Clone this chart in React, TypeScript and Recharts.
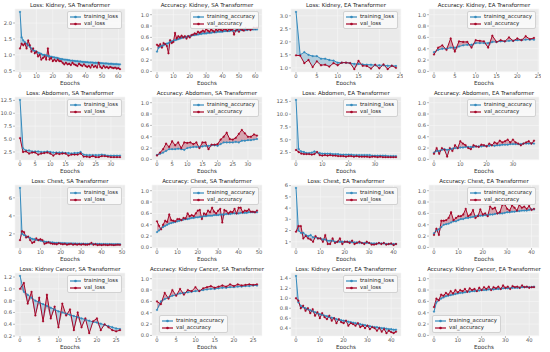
import { ComposedChart, Line, Area, XAxis, YAxis, CartesianGrid } from 'recharts';

const BLUE = '#348ABD';
const RED = '#A60628';
const FONT = '"DejaVu Sans", Verdana, sans-serif';

// Kidney, SA Transformer
const kidneySaTrainLoss = [2.35, 1.55, 1.45, 1.4, 1.35, 1.3, 1.25, 1.2, 1.15, 1.12, 1.1, 1.07, 1.05, 1.03, 1.0, 1.0, 0.98, 0.97, 0.95, 0.94, 0.93, 0.92, 0.91, 0.9, 0.88, 0.87, 0.86, 0.85, 0.85, 0.84, 0.83, 0.82, 0.82, 0.81, 0.8, 0.8, 0.79, 0.79, 0.78, 0.78, 0.77, 0.77, 0.76, 0.76, 0.76, 0.75, 0.75, 0.75, 0.74, 0.74, 0.74, 0.73, 0.73, 0.73, 0.72, 0.72, 0.72, 0.71, 0.71, 0.71, 0.7, 0.7];
const kidneySaValLoss = [1.2, 1.35, 1.3, 1.35, 1.2, 1.45, 1.3, 1.1, 1.2, 1.05, 1.1, 0.95, 1.0, 0.85, 0.9, 0.95, 0.85, 1.2, 0.85, 0.9, 0.8, 0.85, 0.8, 0.85, 0.8, 0.8, 0.75, 0.7, 0.75, 0.7, 0.72, 0.68, 0.75, 0.7, 0.68, 0.65, 0.72, 0.68, 0.65, 0.7, 0.65, 0.62, 0.65, 0.6, 0.68, 0.62, 0.65, 0.6, 0.75, 0.62, 0.58, 0.65, 0.6, 0.62, 0.58, 0.62, 0.6, 0.58, 0.6, 0.57, 0.58, 0.55];
const kidneySaTrainAcc = [0.35, 0.42, 0.44, 0.45, 0.46, 0.48, 0.49, 0.5, 0.52, 0.53, 0.54, 0.55, 0.56, 0.57, 0.58, 0.59, 0.6, 0.6, 0.61, 0.62, 0.62, 0.63, 0.64, 0.64, 0.65, 0.65, 0.66, 0.66, 0.67, 0.67, 0.67, 0.68, 0.68, 0.68, 0.69, 0.69, 0.69, 0.7, 0.7, 0.7, 0.7, 0.71, 0.71, 0.71, 0.71, 0.72, 0.72, 0.72, 0.72, 0.72, 0.73, 0.73, 0.73, 0.73, 0.73, 0.73, 0.74, 0.74, 0.74, 0.74, 0.74, 0.74];
const kidneySaValAcc = [0.47, 0.45, 0.48, 0.42, 0.5, 0.48, 0.45, 0.32, 0.55, 0.5, 0.52, 0.68, 0.58, 0.62, 0.6, 0.63, 0.6, 0.62, 0.58, 0.62, 0.6, 0.64, 0.65, 0.67, 0.66, 0.7, 0.68, 0.7, 0.72, 0.7, 0.75, 0.72, 0.7, 0.74, 0.72, 0.7, 0.74, 0.72, 0.75, 0.73, 0.72, 0.75, 0.74, 0.72, 0.75, 0.73, 0.74, 0.65, 0.72, 0.74, 0.7, 0.75, 0.73, 0.72, 0.76, 0.74, 0.75, 0.73, 0.75, 0.77, 0.76, 0.77];

// Kidney, EA Transformer
const kidneyEaTrainLoss = [3.15, 1.5, 1.6, 1.5, 1.45, 1.45, 1.35, 1.35, 1.3, 1.28, 1.2, 1.2, 1.2, 1.18, 1.15, 1.15, 1.13, 1.12, 1.12, 1.1, 1.1, 1.1, 1.08, 1.08, 1.07];
const kidneyEaValLoss = [1.48, 1.47, 1.18, 1.3, 1.03, 1.25, 1.1, 1.12, 1.05, 1.18, 1.1, 1.2, 1.2, 1.18, 0.95, 1.27, 1.08, 1.07, 0.97, 1.12, 0.98, 1.13, 0.95, 1.08, 1.0];
const kidneyEaTrainAcc = [0.34, 0.38, 0.4, 0.4, 0.42, 0.42, 0.44, 0.46, 0.47, 0.47, 0.5, 0.5, 0.5, 0.5, 0.52, 0.52, 0.53, 0.53, 0.54, 0.54, 0.55, 0.55, 0.56, 0.56, 0.56];
const kidneyEaValAcc = [0.3, 0.42, 0.46, 0.38, 0.58, 0.35, 0.53, 0.52, 0.52, 0.42, 0.55, 0.54, 0.53, 0.42, 0.63, 0.52, 0.55, 0.53, 0.6, 0.54, 0.58, 0.55, 0.62, 0.57, 0.59];

// Abdomen, SA Transformer
const abdomenSaTrainLoss = [12.6, 3.2, 2.8, 2.8, 2.6, 2.6, 2.6, 2.5, 2.5, 2.6, 2.5, 2.4, 2.4, 2.4, 2.4, 2.3, 2.3, 2.2, 2.3, 2.3, 2.5, 2.0, 1.9, 1.9, 1.9, 1.9, 1.9, 2.0, 1.9, 1.8, 1.8, 1.8, 1.8, 1.8];
const abdomenSaValLoss = [5.2, 2.5, 2.6, 2.2, 2.4, 2.4, 2.0, 2.2, 2.3, 2.4, 2.2, 1.8, 2.2, 2.1, 2.2, 2.2, 1.8, 2.0, 2.0, 2.0, 2.2, 1.6, 1.6, 1.5, 1.7, 1.5, 1.5, 1.7, 1.7, 1.6, 1.5, 1.5, 1.5, 1.5];
const abdomenSaTrainAcc = [0.08, 0.1, 0.12, 0.15, 0.18, 0.18, 0.18, 0.19, 0.18, 0.17, 0.2, 0.21, 0.22, 0.22, 0.22, 0.23, 0.24, 0.24, 0.25, 0.25, 0.24, 0.27, 0.3, 0.3, 0.3, 0.3, 0.31, 0.3, 0.33, 0.33, 0.34, 0.34, 0.35, 0.36];
const abdomenSaValAcc = [0.07, 0.12, 0.18, 0.28, 0.22, 0.32, 0.25, 0.3, 0.2, 0.3, 0.29, 0.3, 0.27, 0.3, 0.2, 0.3, 0.3, 0.18, 0.26, 0.26, 0.27, 0.35, 0.4, 0.47, 0.36, 0.35, 0.38, 0.45, 0.52, 0.46, 0.4, 0.4, 0.44, 0.42];

// Abdomen, EA Transformer
const abdomenEaTrainLoss = [12.8, 3.2, 2.7, 2.6, 2.4, 2.4, 2.5, 2.7, 2.5, 2.4, 2.3, 2.3, 2.3, 2.3, 2.2, 2.2, 2.2, 2.1, 2.1, 2.1, 2.1, 2.1, 2.0, 2.0, 2.0, 2.0, 2.0, 2.0, 2.0, 1.9, 1.9, 1.9, 1.9, 1.9, 1.9, 1.8, 1.8, 1.8, 1.8];
const abdomenEaValLoss = [3.0, 2.6, 2.3, 2.2, 2.2, 2.2, 2.1, 2.2, 2.6, 2.0, 1.9, 2.0, 1.9, 2.0, 1.9, 1.9, 1.8, 1.8, 1.8, 1.7, 1.8, 1.8, 1.7, 1.8, 1.7, 1.7, 1.7, 1.7, 1.6, 1.7, 1.7, 1.6, 1.7, 1.6, 1.6, 1.6, 1.6, 1.6, 1.6];
const abdomenEaTrainAcc = [0.12, 0.15, 0.15, 0.17, 0.18, 0.17, 0.18, 0.19, 0.2, 0.2, 0.21, 0.21, 0.22, 0.22, 0.22, 0.22, 0.23, 0.23, 0.23, 0.24, 0.24, 0.24, 0.25, 0.24, 0.25, 0.25, 0.26, 0.26, 0.26, 0.27, 0.27, 0.27, 0.27, 0.27, 0.28, 0.28, 0.28, 0.28, 0.28];
const abdomenEaValAcc = [0.1, 0.2, 0.1, 0.2, 0.17, 0.05, 0.2, 0.15, 0.25, 0.2, 0.32, 0.28, 0.25, 0.2, 0.18, 0.25, 0.23, 0.22, 0.26, 0.25, 0.23, 0.28, 0.25, 0.3, 0.28, 0.33, 0.3, 0.32, 0.35, 0.3, 0.35, 0.3, 0.28, 0.25, 0.28, 0.3, 0.32, 0.28, 0.33];

// Chest, SA Transformer
const chestSaTrainLoss = [7.1, 2.0, 1.85, 1.75, 1.65, 1.55, 1.45, 1.4, 1.35, 1.3, 1.25, 1.2, 1.15, 1.1, 1.1, 1.05, 1.05, 1.0, 1.0, 1.0, 0.98, 0.97, 0.96, 0.95, 0.95, 0.94, 0.93, 0.93, 0.92, 0.92, 0.91, 0.91, 0.9, 0.9, 0.9, 0.89, 0.89, 0.88, 0.88, 0.88, 0.87, 0.87, 0.87, 0.86, 0.86, 0.86, 0.85, 0.85, 0.85, 0.85];
const chestSaValLoss = [1.3, 2.3, 2.2, 1.6, 1.7, 1.3, 1.0, 1.1, 1.5, 1.3, 1.4, 1.3, 0.9, 1.0, 1.05, 0.95, 0.9, 0.9, 0.85, 0.95, 0.9, 0.85, 0.9, 0.8, 0.85, 0.9, 0.8, 0.85, 0.8, 0.85, 0.8, 0.85, 0.8, 0.8, 0.85, 1.0, 0.8, 0.85, 0.75, 0.8, 0.75, 0.8, 0.78, 0.75, 0.8, 0.78, 0.75, 0.78, 0.8, 0.78];
const chestSaTrainAcc = [0.27, 0.3, 0.33, 0.36, 0.38, 0.4, 0.42, 0.43, 0.44, 0.45, 0.46, 0.47, 0.48, 0.49, 0.5, 0.5, 0.51, 0.52, 0.52, 0.53, 0.53, 0.54, 0.54, 0.55, 0.55, 0.56, 0.56, 0.56, 0.57, 0.57, 0.57, 0.58, 0.58, 0.58, 0.59, 0.59, 0.59, 0.6, 0.6, 0.6, 0.6, 0.61, 0.61, 0.61, 0.61, 0.62, 0.62, 0.62, 0.62, 0.62];
const chestSaValAcc = [0.46, 0.38, 0.32, 0.4, 0.47, 0.45, 0.58, 0.48, 0.47, 0.46, 0.5, 0.5, 0.48, 0.52, 0.51, 0.6, 0.55, 0.57, 0.55, 0.6, 0.65, 0.66, 0.5, 0.6, 0.58, 0.65, 0.62, 0.7, 0.63, 0.6, 0.65, 0.68, 0.44, 0.66, 0.64, 0.6, 0.63, 0.62, 0.68, 0.6, 0.7, 0.7, 0.62, 0.65, 0.64, 0.67, 0.63, 0.63, 0.62, 0.65];

// Chest, EA Transformer
const chestEaTrainLoss = [5.8, 2.0, 1.8, 1.8, 1.6, 1.5, 1.6, 1.4, 1.4, 1.3, 1.3, 1.2, 1.2, 1.1, 1.1, 1.1, 1.0, 1.0, 1.0, 1.0, 1.0, 1.0, 1.0, 0.95, 0.95, 0.95, 0.9, 0.9, 0.9, 0.9, 0.9, 0.85, 0.85, 0.85, 0.85, 0.85, 0.85, 0.8, 0.8, 0.8, 0.8, 0.8];
const chestEaValLoss = [1.9, 2.4, 2.4, 1.3, 1.5, 1.3, 1.2, 1.0, 1.5, 1.3, 1.3, 1.0, 1.6, 0.8, 0.8, 1.3, 0.9, 1.0, 1.3, 0.8, 1.0, 1.0, 0.9, 1.1, 0.8, 0.9, 1.0, 0.9, 0.8, 1.0, 0.9, 0.75, 0.75, 0.8, 0.9, 0.8, 0.9, 0.75, 0.8, 0.85, 0.7, 0.8];
const chestEaTrainAcc = [0.25, 0.3, 0.32, 0.36, 0.4, 0.41, 0.42, 0.44, 0.46, 0.46, 0.48, 0.5, 0.5, 0.52, 0.52, 0.53, 0.54, 0.55, 0.56, 0.56, 0.56, 0.57, 0.57, 0.58, 0.58, 0.59, 0.6, 0.6, 0.6, 0.61, 0.62, 0.62, 0.63, 0.63, 0.64, 0.64, 0.65, 0.65, 0.65, 0.66, 0.67, 0.67];
const chestEaValAcc = [0.22, 0.33, 0.22, 0.47, 0.47, 0.48, 0.52, 0.62, 0.48, 0.52, 0.55, 0.55, 0.58, 0.68, 0.55, 0.58, 0.66, 0.52, 0.55, 0.67, 0.58, 0.6, 0.55, 0.72, 0.68, 0.7, 0.6, 0.62, 0.75, 0.76, 0.68, 0.65, 0.74, 0.7, 0.65, 0.75, 0.7, 0.72, 0.68, 0.73, 0.66, 0.68];

// Kidney Cancer, SA Transformer
const cancerSaTrainLoss = [1.22, 0.95, 0.9, 0.85, 0.8, 0.77, 0.74, 0.71, 0.68, 0.65, 0.62, 0.6, 0.58, 0.56, 0.54, 0.52, 0.5, 0.48, 0.46, 0.44, 0.43, 0.41, 0.39, 0.37, 0.35, 0.33, 0.32];
const cancerSaValLoss = [1.0, 1.1, 0.75, 0.95, 0.55, 0.85, 0.45, 0.9, 0.5, 0.7, 0.35, 0.75, 0.55, 0.65, 0.3, 0.6, 0.35, 0.5, 0.25, 0.45, 0.5, 0.3, 0.4, 0.35, 0.3, 0.28, 0.3];
const cancerSaTrainAcc = [0.45, 0.6, 0.64, 0.67, 0.7, 0.72, 0.74, 0.75, 0.76, 0.77, 0.78, 0.79, 0.8, 0.81, 0.82, 0.82, 0.83, 0.84, 0.84, 0.85, 0.85, 0.86, 0.86, 0.87, 0.87, 0.88, 0.88];
const cancerSaValAcc = [0.6, 0.55, 0.75, 0.65, 0.8, 0.7, 0.82, 0.72, 0.8, 0.78, 0.85, 0.78, 0.83, 0.85, 0.87, 0.84, 0.86, 0.88, 0.86, 0.9, 0.87, 0.9, 0.88, 0.89, 0.9, 0.89, 0.9];

// Kidney Cancer, EA Transformer
const cancerEaTrainLoss = [1.45, 0.92, 0.85, 0.82, 0.8, 0.78, 0.76, 0.74, 0.72, 0.7, 0.68, 0.67, 0.65, 0.64, 0.62, 0.61, 0.6, 0.58, 0.57, 0.56, 0.55, 0.54, 0.53, 0.52, 0.51, 0.5, 0.49, 0.48, 0.47, 0.46, 0.45, 0.44, 0.43, 0.42, 0.42, 0.41, 0.4, 0.4, 0.39, 0.38, 0.38, 0.37, 0.37];
const cancerEaValLoss = [1.0, 0.95, 0.8, 0.85, 0.75, 0.8, 0.7, 0.78, 0.65, 0.72, 0.6, 0.7, 0.62, 0.58, 0.65, 0.55, 0.6, 0.5, 0.58, 0.52, 0.5, 0.55, 0.45, 0.5, 0.48, 0.45, 0.5, 0.42, 0.45, 0.4, 0.45, 0.38, 0.42, 0.4, 0.35, 0.4, 0.33, 0.38, 0.3, 0.35, 0.32, 0.3, 0.33];
const cancerEaTrainAcc = [0.42, 0.58, 0.62, 0.65, 0.67, 0.69, 0.7, 0.71, 0.72, 0.73, 0.74, 0.75, 0.75, 0.76, 0.77, 0.77, 0.78, 0.78, 0.79, 0.79, 0.8, 0.8, 0.8, 0.81, 0.81, 0.81, 0.82, 0.82, 0.82, 0.83, 0.83, 0.83, 0.83, 0.84, 0.84, 0.84, 0.84, 0.85, 0.85, 0.85, 0.85, 0.85, 0.86];
const cancerEaValAcc = [0.5, 0.65, 0.62, 0.72, 0.7, 0.75, 0.72, 0.78, 0.74, 0.8, 0.76, 0.8, 0.78, 0.82, 0.77, 0.83, 0.8, 0.82, 0.78, 0.84, 0.8, 0.85, 0.82, 0.86, 0.8, 0.85, 0.83, 0.86, 0.82, 0.88, 0.84, 0.86, 0.82, 0.87, 0.85, 0.86, 0.84, 0.88, 0.85, 0.86, 0.84, 0.85, 0.85];

// tick labels
const accTicks = [0, 0.2, 0.4, 0.6, 0.8, 1.0];
const kidneySaLossTicks = [0.5, 1.0, 1.5, 2.0];
const kidneyEaLossTicks = [1.0, 1.5, 2.0, 2.5, 3.0];
const abdomenLossTicks = [2.5, 5.0, 7.5, 10.0, 12.5];
const chestSaLossTicks = [2, 4, 6];
const chestEaLossTicks = [1, 2, 3, 4, 5, 6];
const cancerSaLossTicks = [0.2, 0.4, 0.6, 0.8, 1.0, 1.2];
const cancerEaLossTicks = [0.4, 0.6, 0.8, 1.0, 1.2, 1.4];
const epochTicks60 = [0, 10, 20, 30, 40, 50, 60];
const epochTicks25 = [0, 5, 10, 15, 20, 25];
const epochTicks30 = [0, 5, 10, 15, 20, 25, 30];
const epochTicks30by10 = [0, 10, 20, 30];
const epochTicks40 = [0, 10, 20, 30, 40];
const epochTicks50 = [0, 10, 20, 30, 40, 50];

const COL_LEFT = [15, 152, 291, 429];
const ROW_TOP = [9, 97, 185, 273];
const PLOT_W = 110;
const PLOT_H = 63;
const Y_W = 30;
const X_H = 13;

type LegendPos = 'ur' | 'lc' | 'll';

interface PanelSpec {
  title: string;
  kind: 'loss' | 'accuracy';
  train: number[];
  val: number[];
  yTicks: number[];
  xTicks: number[];
  digits: number;
  legend?: LegendPos;
}

const panels: PanelSpec[][] = [
  [
    { title: 'Loss: Kidney, SA Transformer', kind: 'loss', train: kidneySaTrainLoss, val: kidneySaValLoss, yTicks: kidneySaLossTicks, xTicks: epochTicks60, digits: 1 },
    { title: 'Accuracy: Kidney, SA Transformer', kind: 'accuracy', train: kidneySaTrainAcc, val: kidneySaValAcc, yTicks: accTicks, xTicks: epochTicks60, digits: 1 },
    { title: 'Loss: Kidney, EA Transformer', kind: 'loss', train: kidneyEaTrainLoss, val: kidneyEaValLoss, yTicks: kidneyEaLossTicks, xTicks: epochTicks25, digits: 1 },
    { title: 'Accuracy: Kidney, EA Transformer', kind: 'accuracy', train: kidneyEaTrainAcc, val: kidneyEaValAcc, yTicks: accTicks, xTicks: epochTicks25, digits: 1 },
  ],
  [
    { title: 'Loss: Abdomen, SA Transformer', kind: 'loss', train: abdomenSaTrainLoss, val: abdomenSaValLoss, yTicks: abdomenLossTicks, xTicks: epochTicks30, digits: 1 },
    { title: 'Accuracy: Abdomen, SA Transformer', kind: 'accuracy', train: abdomenSaTrainAcc, val: abdomenSaValAcc, yTicks: accTicks, xTicks: epochTicks30, digits: 1 },
    { title: 'Loss: Abdomen, EA Transformer', kind: 'loss', train: abdomenEaTrainLoss, val: abdomenEaValLoss, yTicks: abdomenLossTicks, xTicks: epochTicks30by10, digits: 1 },
    { title: 'Accuracy: Abdomen, EA Transformer', kind: 'accuracy', train: abdomenEaTrainAcc, val: abdomenEaValAcc, yTicks: accTicks, xTicks: epochTicks30by10, digits: 1 },
  ],
  [
    { title: 'Loss: Chest, SA Transformer', kind: 'loss', train: chestSaTrainLoss, val: chestSaValLoss, yTicks: chestSaLossTicks, xTicks: epochTicks50, digits: 0 },
    { title: 'Accuracy: Chest, SA Transformer', kind: 'accuracy', train: chestSaTrainAcc, val: chestSaValAcc, yTicks: accTicks, xTicks: epochTicks50, digits: 1 },
    { title: 'Loss: Chest, EA Transformer', kind: 'loss', train: chestEaTrainLoss, val: chestEaValLoss, yTicks: chestEaLossTicks, xTicks: epochTicks40, digits: 0 },
    { title: 'Accuracy: Chest, EA Transformer', kind: 'accuracy', train: chestEaTrainAcc, val: chestEaValAcc, yTicks: accTicks, xTicks: epochTicks40, digits: 1 },
  ],
  [
    { title: 'Loss: Kidney Cancer, SA Transformer', kind: 'loss', train: cancerSaTrainLoss, val: cancerSaValLoss, yTicks: cancerSaLossTicks, xTicks: epochTicks25, digits: 1 },
    { title: 'Accuracy: Kidney Cancer, SA Transformer', kind: 'accuracy', train: cancerSaTrainAcc, val: cancerSaValAcc, yTicks: accTicks, xTicks: epochTicks25, digits: 1, legend: 'lc' },
    { title: 'Loss: Kidney Cancer, EA Transformer', kind: 'loss', train: cancerEaTrainLoss, val: cancerEaValLoss, yTicks: cancerEaLossTicks, xTicks: epochTicks40, digits: 1 },
    { title: 'Accuracy: Kidney Cancer, EA Transformer', kind: 'accuracy', train: cancerEaTrainAcc, val: cancerEaValAcc, yTicks: accTicks, xTicks: epochTicks40, digits: 1, legend: 'll' },
  ],
];

function LegendBox({ kind, pos, left, top }: { kind: string; pos: LegendPos; left: number; top: number }) {
  const place: React.CSSProperties =
    pos === 'ur'
      ? { right: 550 - (left + PLOT_W) + 3, top: top + 2 }
      : pos === 'lc'
      ? { left: left + 7, bottom: 352 - (top + PLOT_H) + 3 }
      : { left: left + 3, bottom: 352 - (top + PLOT_H) + 3 };
  const rows = [
    { name: `training_${kind}`, color: BLUE },
    { name: `val_${kind}`, color: RED },
  ];
  return (
    <div
      style={{
        position: 'absolute',
        ...place,
        background: 'rgba(250,250,250,0.85)',
        border: '0.8px solid #d2d2d2',
        borderRadius: 2,
        padding: '1px 3px 1px 2px',
        fontSize: 5.4,
        lineHeight: '7px',
        color: '#222',
      }}
    >
      {rows.map((r) => (
        <div key={r.name} style={{ display: 'flex', alignItems: 'center', gap: 3 }}>
          <svg width={11} height={4}>
            <line x1={0} y1={2} x2={11} y2={2} stroke={r.color} strokeWidth={1.2} />
            <circle cx={5.5} cy={2} r={1.3} fill={r.color} />
          </svg>
          <span>{r.name}</span>
        </div>
      ))}
    </div>
  );
}

function Panel({ p, row, col }: { p: PanelSpec; row: number; col: number }) {
  const left = COL_LEFT[col];
  const top = ROW_TOP[row];
  const data = p.train.map((t, i) => ({ epoch: i, t, v: p.val[i], lo: Math.min(t, p.val[i]) }));
  const last = p.train.length - 1;
  const xDomain = [-0.05 * last, 1.05 * last];
  let yDomain: number[];
  if (p.kind === 'accuracy') {
    yDomain = [-0.01, 1.1];
  } else {
    const all = [...p.train, ...p.val];
    const mn = Math.min(...all);
    const mx = Math.max(...all);
    const r = mx - mn;
    yDomain = [mn - 0.05 * r, mx + 0.05 * r];
  }
  const dot = (c: string) => ({ r: 0.9, fill: c, stroke: c, strokeWidth: 0.3 });

  return (
    <>
      <div
        style={{
          position: 'absolute',
          left: left - 10,
          top: top - 7.5,
          width: PLOT_W + 20,
          textAlign: 'center',
          fontSize: 5.5,
          lineHeight: '6px',
          color: '#222',
          whiteSpace: 'nowrap',
        }}
      >
        {p.title}
      </div>
      <div style={{ position: 'absolute', left: left - Y_W, top: top - 2 }}>
        <ComposedChart
          width={PLOT_W + Y_W + 2}
          height={PLOT_H + 2 + X_H}
          data={data}
          margin={{ top: 2, right: 2, left: 0, bottom: 0 }}
        >
          <CartesianGrid stroke="#f7f7f7" strokeWidth={0.6} fill="#eaeaea" />
          <XAxis
            type="number"
            dataKey="epoch"
            domain={xDomain}
            ticks={p.xTicks}
            interval={0}
            allowDataOverflow
            height={X_H}
            axisLine={false}
            tickLine={{ stroke: '#777', strokeWidth: 0.5 }}
            tickSize={2}
            tickMargin={0}
            tick={{ fontSize: 5.2, fill: '#555' }}
            label={{ value: 'Epochs', position: 'insideBottom', offset: 0, fontSize: 5.6, fill: '#333' }}
          />
          <YAxis
            type="number"
            domain={yDomain}
            ticks={p.yTicks}
            interval={0}
            allowDataOverflow
            width={Y_W}
            axisLine={false}
            tickLine={{ stroke: '#777', strokeWidth: 0.5 }}
            tickSize={2}
            tickMargin={1}
            tick={{ fontSize: 5.2, fill: '#555' }}
            tickFormatter={(v: number) => v.toFixed(p.digits)}
          />
          <Area
            type="linear"
            dataKey={(d: any) => [d.lo, d.t]}
            stroke="none"
            fill={BLUE}
            fillOpacity={0.3}
            dot={false}
            activeDot={false}
            isAnimationActive={false}
          />
          <Area
            type="linear"
            dataKey={(d: any) => [d.lo, d.v]}
            stroke="none"
            fill={RED}
            fillOpacity={0.3}
            dot={false}
            activeDot={false}
            isAnimationActive={false}
          />
          <Line type="linear" dataKey="t" stroke={BLUE} strokeWidth={1} dot={dot(BLUE)} activeDot={false} isAnimationActive={false} />
          <Line type="linear" dataKey="v" stroke={RED} strokeWidth={1} dot={dot(RED)} activeDot={false} isAnimationActive={false} />
        </ComposedChart>
      </div>
      <LegendBox kind={p.kind} pos={p.legend ?? 'ur'} left={left} top={top} />
    </>
  );
}

export default function App() {
  return (
    <div
      style={{
        position: 'absolute',
        left: 0,
        top: 0,
        width: 550,
        height: 352,
        background: '#fff',
        fontFamily: FONT,
        overflow: 'hidden',
      }}
    >
      {panels.map((rowPanels, r) =>
        rowPanels.map((p, c) => <Panel key={p.title} p={p} row={r} col={c} />)
      )}
    </div>
  );
}
